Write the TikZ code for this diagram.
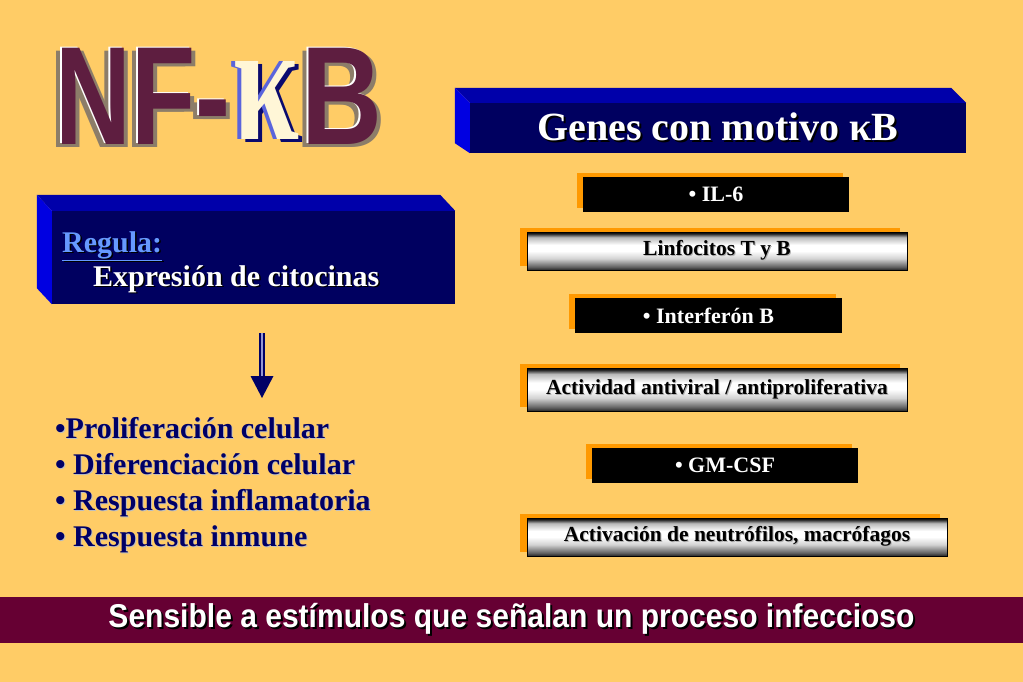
\documentclass[tikz,border=0pt]{standalone}
\usepackage{fontspec}
\setmainfont{Liberation Serif}
\newfontfamily\barfont{Liberation Sans}
\usetikzlibrary{calc,shadows}

\definecolor{bgyellow}{RGB}{255,204,102}
\definecolor{navyface}{RGB}{0,0,96}
\definecolor{topface}{RGB}{0,0,170}
\definecolor{sideface}{RGB}{0,0,225}
\definecolor{boxorange}{RGB}{255,153,0}
\definecolor{barmaroon}{RGB}{102,0,51}
\definecolor{wordmaroon}{RGB}{94,30,64}
\definecolor{wordshade}{RGB}{140,125,105}
\definecolor{kappablue}{RGB}{90,100,220}
\definecolor{kappanavy}{RGB}{10,10,110}
\definecolor{kappacream}{RGB}{255,246,215}
\definecolor{regblue}{RGB}{102,153,255}
\definecolor{listnavy}{RGB}{0,0,102}
\definecolor{shaftgap}{RGB}{150,150,210}

% metallic bar
\pgfdeclareverticalshading{metal}{100bp}{color(0bp)=(black); color(25bp)=(black!85); color(29bp)=(gray!75!black); color(40bp)=(gray!35); color(50bp)=(white); color(58bp)=(white); color(68bp)=(gray!55); color(73bp)=(gray!25!black); color(75bp)=(black); color(100bp)=(black)}

% text with a drop shadow
\newcommand\dropped[3][1.5pt]{\rlap{\kern#1\raisebox{-#1}{\color{#2}#3}}#3}
% word art: extruded copies behind the letters
\newcommand\extruded[1]{\rlap{\kern-6pt\raisebox{-3pt}{\color{wordshade}#1}}\rlap{\kern4pt\raisebox{-3pt}{\color{wordshade}#1}}\rlap{\kern-1.5pt\raisebox{1.5pt}{\color{white}#1}}{\color{wordmaroon}#1}}
\newcommand\outlined[1]{\rlap{\kern4pt\raisebox{-3pt}{\color{kappanavy}#1}}\rlap{\kern-4pt{\color{kappablue}#1}}{\color{kappacream}#1}}

\begin{document}
\begin{tikzpicture}[x=1pt,y=-1pt,
    wordart/.style={inner sep=0pt, anchor=base west, font=\barfont\bfseries\fontsize{140}{140}\selectfont},
    kappaart/.style={inner sep=0pt, anchor=base west, font=\bfseries\fontsize{170}{170}\selectfont},
    frontface/.style={fill=navyface, inner sep=0pt, text=white},
    genebox/.style={fill=black, text=white, inner sep=0pt, minimum height=35pt,
        font=\bfseries\fontsize{22}{22}\selectfont,
        general shadow={fill=boxorange, shadow xshift=-6pt, shadow yshift=4pt}},
    effectbox/.style={draw=black, line width=0.8pt, shade, shading=metal, text=black, inner sep=0pt,
        font=\bfseries\fontsize{21.5}{21.5}\selectfont,
        general shadow={fill=boxorange, shadow xshift=-7pt, shadow yshift=4pt}},
    listtext/.style={inner sep=0pt, anchor=base west, text=listnavy, font=\bfseries\fontsize{30}{30}\selectfont},
    regtext/.style={inner sep=0pt, anchor=base west, font=\bfseries\fontsize{30}{30}\selectfont},
    arrowshaft/.style={draw=listnavy, line width=1.8pt, double=shaftgap, double distance=2.4pt}]
    % page
    \fill[bgyellow](0,0)rectangle(1023,682);
    \useasboundingbox(0,0)rectangle(1023,682);
    % title NF-kB
    \node[wordart](nf)at(55,145){\extruded{\scalebox{0.75}[1]{NF-}}};
    \node[kappaart](kappa)at(233,140){\outlined{\scalebox{0.7}[1]{κ}}};
    \node[wordart](bb)at(301,145){\extruded{\scalebox{0.8}[1]{B}}};
    % genes box
    \node[frontface, minimum width=496pt, minimum height=50pt, font=\bfseries\fontsize{40}{40}\selectfont]
        (genes)at(718,128){\dropped[2pt]{black}{Genes con motivo κB}};
    \fill[topface](genes.north west)--++(-15,-15)--($(genes.north east)+(-15,-15)$)--(genes.north east)--cycle;
    \fill[sideface](genes.north west)--++(-15,-15)--($(genes.south west)+(-15,-10)$)--(genes.south west)--cycle;
    % regula box
    \node[frontface, minimum width=403pt, minimum height=93pt](regula)at(253.5,257.5){};
    \fill[topface](regula.north west)--++(-15,-16)--($(regula.north east)+(-15,-16)$)--(regula.north east)--cycle;
    \fill[sideface](regula.north west)--++(-15,-16)--($(regula.south west)+(-15,-16)$)--(regula.south west)--cycle;
    \node[regtext, text=regblue](regtitle)at(62,252){\dropped{black}{\underline{Regula:}}};
    \node[regtext, text=white](regcito)at(93,286){\dropped{black}{Expresión de citocinas}};
    % arrow
    \coordinate(arrtop)at(262,333);
    \coordinate(arrend)at(262,376);
    \draw[arrowshaft](arrtop)--(arrend);
    \fill[listnavy]($(arrend)+(-11.5,0)$)--($(arrend)+(11.5,0)$)--($(arrend)+(0,22)$)--cycle;
    % responses
    \foreach \entry [count=\i] in {{•Proliferación celular},{• Diferenciación celular},{• Respuesta inflamatoria},{• Respuesta inmune}}
        \node[listtext](resp\i)at(55,{402+36*\i}){\dropped[1pt]{black!25}{\entry}};
    % genes and effects
    \node[genebox, minimum width=266pt](il6)at(716,194.5){• IL-6};
    \node[effectbox, minimum width=380pt, minimum height=38pt](linf)at(717,251){\dropped[1pt]{gray!60}{Linfocitos T y B}};
    \node[genebox, minimum width=267pt](ifn)at(708.5,315.5){• Interferón B};
    \node[effectbox, minimum width=380pt, minimum height=43pt](antiv)at(717,389.5){\dropped[1pt]{gray!60}{Actividad antiviral / antiproliferativa}};
    \node[genebox, minimum width=266pt](gmcsf)at(725,465.5){• GM-CSF};
    \node[effectbox, minimum width=420pt, minimum height=38pt](neutro)at(737,537){\dropped[1pt]{gray!60}{Activación de neutrófilos, macrófagos}};
    % bottom bar
    \node[fill=barmaroon, minimum width=1025pt, minimum height=46pt, inner sep=0pt, text=white,
        font=\barfont\bfseries\fontsize{33}{33}\selectfont]
        (bar)at(511.5,620){\dropped[2pt]{black}{\scalebox{0.91}[1]{Sensible a estímulos que señalan un proceso infeccioso}}};
\end{tikzpicture}
\end{document}
